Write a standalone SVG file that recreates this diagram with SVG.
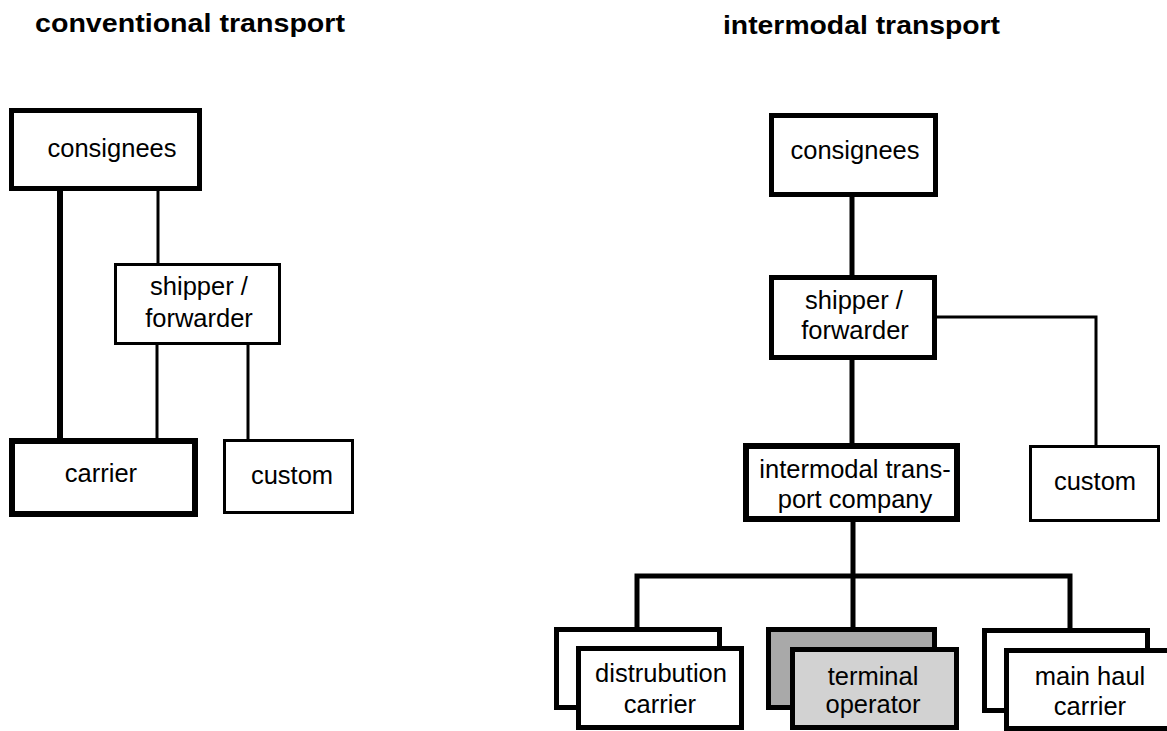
<svg xmlns="http://www.w3.org/2000/svg" width="1167" height="731" viewBox="0 0 1167 731">
<style>
  .box{fill:#fff;stroke:#000;stroke-width:5}
  .thin{fill:#fff;stroke:#000;stroke-width:3}
  .thick{stroke-width:6}
  .lt{fill:none;stroke:#000;stroke-width:3}
  .lk{fill:none;stroke:#000;stroke-width:5}
  text{font-family:"Liberation Sans",Arial,sans-serif;font-size:25.5px;fill:#000;text-anchor:middle}
  .title{font-weight:bold;font-size:26px;text-anchor:start}
</style>
<rect width="1167" height="731" fill="#fff"/>
<text class="title" x="35" y="32" textLength="310" lengthAdjust="spacingAndGlyphs">conventional transport</text>
<text class="title" x="723" y="34" textLength="277" lengthAdjust="spacingAndGlyphs">intermodal transport</text>
<g id="connectors">
  <line class="lk" x1="60" y1="190" x2="60" y2="439" style="stroke-width:6"/>
  <line class="lt" x1="158" y1="190" x2="158" y2="264"/>
  <line class="lt" x1="157" y1="344" x2="157" y2="439"/>
  <line class="lt" x1="248" y1="344" x2="248" y2="440"/>
  <line class="lk" x1="852" y1="196" x2="852" y2="276"/>
  <line class="lk" x1="852" y1="359" x2="852" y2="444"/>
  <polyline class="lt" points="936,317 1096,317 1096,446"/>
  <line class="lk" x1="853" y1="521" x2="853" y2="629"/>
  <polyline class="lk" points="637,628 637,576 1070,576 1070,629"/>
</g>
<g id="conv-consignees"><rect class="box" x="11.5" y="110.5" width="188" height="78"/><text x="112" y="157">consignees</text></g>
<g id="conv-shipper"><rect class="thin" x="115.5" y="264.5" width="164" height="79"/><text x="199" y="295">shipper /</text><text x="199" y="327">forwarder</text></g>
<g id="conv-carrier"><rect class="box thick" x="12" y="441" width="183" height="73"/><text x="101" y="482">carrier</text></g>
<g id="conv-custom"><rect class="thin" x="224.5" y="440.5" width="128" height="72"/><text x="292" y="484">custom</text></g>
<g id="im-consignees"><rect class="box" x="771.5" y="115.5" width="164" height="79"/><text x="855" y="159">consignees</text></g>
<g id="im-shipper"><rect class="box" x="771.5" y="277.5" width="163" height="80"/><text x="854" y="309">shipper /</text><text x="855" y="339">forwarder</text></g>
<g id="im-custom"><rect class="thin" x="1030.5" y="446.5" width="128" height="74"/><text x="1095" y="490">custom</text></g>
<g id="im-company"><rect class="box thick" x="746" y="446" width="211" height="73"/><text x="855" y="478">intermodal trans-</text><text x="855" y="508">port company</text></g>
<g id="distribution-carrier">
  <rect class="box" x="556.5" y="629.5" width="163" height="78"/>
  <rect class="box" x="578.5" y="648.5" width="163" height="79"/>
  <text x="661" y="682">distrubution</text><text x="660" y="713">carrier</text>
</g>
<g id="terminal-operator">
  <rect class="box" x="768.5" y="629.5" width="166" height="78" style="fill:#a9a9a9"/>
  <rect class="box" x="792.5" y="649.5" width="164" height="78" style="fill:#d2d2d2"/>
  <text x="873" y="685">terminal</text><text x="873" y="713">operator</text>
</g>
<g id="main-haul-carrier">
  <rect class="box" x="984.5" y="630.5" width="163" height="80"/>
  <rect class="box" x="1006.5" y="650.5" width="163" height="78"/>
  <text x="1090" y="685">main haul</text><text x="1090" y="715">carrier</text>
</g>
</svg>
